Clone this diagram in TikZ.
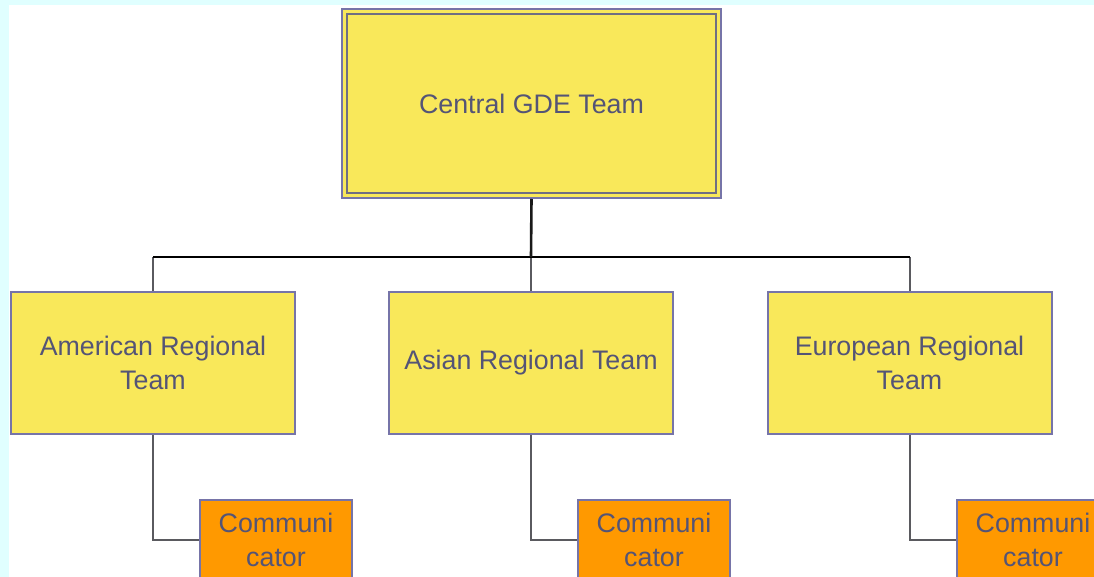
\documentclass[tikz,border=0pt]{standalone}
\usepackage{fontspec}
\setmainfont{Liberation Sans}
\definecolor{bgcyan}{RGB}{224,255,255}
\definecolor{boxyellow}{RGB}{249,232,90}
\definecolor{boxorange}{RGB}{255,153,0}
\definecolor{boxborder}{RGB}{118,116,168}
\definecolor{innerborder}{RGB}{112,110,130}
\definecolor{txt}{RGB}{84,84,118}
\definecolor{dropgray}{RGB}{90,90,95}
\tikzset{
  base/.style={rectangle, draw=boxborder, line width=1pt, text=txt, align=center,
    font=\fontsize{13.4}{16.6}\selectfont, inner sep=0pt},
  centralbox/.style={base, fill=boxyellow, minimum width=189.5pt, minimum height=94.5pt},
  regionbox/.style={base, fill=boxyellow, minimum width=142pt, minimum height=71pt},
  commbox/.style={base, fill=boxorange, minimum width=76pt, minimum height=40pt},
  busline/.style={line width=1pt, draw=black},
  stemline/.style={line width=1.3pt, draw=black!90},
  dropline/.style={line width=1pt, draw=dropgray},
  innerframe/.style={line width=1pt, draw=innerborder}
}
\begin{document}
\begin{tikzpicture}[x=0.5pt, y=-0.5pt]
\clip (0,0) rectangle (1094,577);
\fill[bgcyan] (0,0) rectangle (1094,577);
\fill[white] (9,5) rectangle (1094,577);
\useasboundingbox (0,0) rectangle (1094,577);

\node[centralbox] (central) at (531.5,103.5) {Central GDE Team};
\draw[innerframe] ([shift={(6,6)}]central.north west) rectangle ([shift={(-6,-6)}]central.south east);

\node[regionbox] (amer) at (153,363) {American Regional\\Team};
\node[regionbox] (asia) at (531,363) {Asian Regional Team};
\node[regionbox] (euro) at (909.5,363) {European Regional\\Team};

\node[commbox] (comA) at (276,540) {Communi\\cator};
\node[commbox] (comB) at (654,540) {Communi\\cator};
\node[commbox] (comC) at (1033,540) {Communi\\cator};

\coordinate (bus) at (531,257);

\draw[dropline] (amer.north) -- (amer.north |- bus);
\draw[dropline] (asia.north) -- (asia.north |- bus);
\draw[dropline] (euro.north) -- (euro.north |- bus);
\draw[busline] (amer.north |- bus) -- (euro.north |- bus);
\draw[stemline] (central.south) -- (bus);

\draw[dropline] (amer.south) |- (comA.west);
\draw[dropline] (asia.south) |- (comB.west);
\draw[dropline] (euro.south) |- (comC.west);
\end{tikzpicture}
\end{document}
